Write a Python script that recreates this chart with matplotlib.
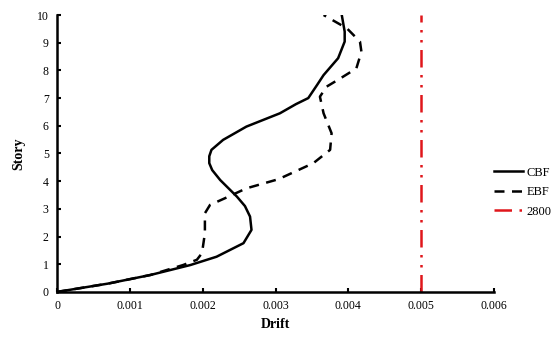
import matplotlib.pyplot as plt

plt.rcParams['font.family'] = ['Liberation Serif', 'DejaVu Serif']

# CBF drift profile
cbf_story = [0, 0.3, 0.61, 0.97, 1.27, 1.76, 2.24, 2.72, 3.1, 3.44, 4.04, 4.4, 4.65, 4.9, 5.13, 5.49, 5.97, 6.45,
             6.78, 7.0, 7.47, 7.83, 8.44, 9.04, 9.4, 10]
cbf_drift = [0, 0.0007, 0.00128, 0.00183, 0.00219, 0.00256, 0.00267, 0.00265, 0.00258, 0.00247, 0.00224, 0.00213,
             0.00209, 0.00209, 0.00212, 0.00228, 0.0026, 0.00306, 0.00328, 0.00345, 0.00357, 0.00366, 0.00386,
             0.00395, 0.00395, 0.00391]

# EBF drift profile
ebf_story = [0, 0.3, 0.61, 0.97, 1.16, 1.4, 2.12, 2.84, 3.14, 3.4, 3.74, 4.07, 4.65, 5.13, 5.73, 6.45, 7.05,
             7.41, 7.71, 8.07, 8.67, 9.04, 9.52, 10]
ebf_drift = [0, 0.0007, 0.00128, 0.00173, 0.00192, 0.00199, 0.00203, 0.00203, 0.0021, 0.00232, 0.0026, 0.00304,
             0.00352, 0.00375, 0.00377, 0.00366, 0.00361, 0.0037, 0.00389, 0.00411, 0.00418, 0.00416, 0.00398, 0.00366]

# code limit (Standard 2800)
limit_drift = [0.005, 0.005]
limit_story = [0, 10]

fig = plt.figure(figsize=(5.6, 3.41), dpi=100)
ax = fig.add_axes([0.102, 0.144, 0.78, 0.812])

ax.plot(cbf_drift, cbf_story, color='black', lw=1.8, label='CBF')
ax.plot(ebf_drift, ebf_story, color='black', lw=1.8, dashes=(4, 3), label='EBF')
ax.plot(limit_drift, limit_story, color='#e0161b', lw=1.8, dashes=(7, 3, 1, 3, 1, 3), label='2800')

ax.set_xlim(0, 0.006)
ax.set_ylim(0, 10)
ax.set_xticks([0, 0.001, 0.002, 0.003, 0.004, 0.005, 0.006])
ax.set_xticklabels(['0', '0.001', '0.002', '0.003', '0.004', '0.005', '0.006'])
ax.set_yticks(range(11))
ax.tick_params(direction='in', length=3, width=1.5, labelsize=8.5, pad=6)
for s in ['top', 'right']:
    ax.spines[s].set_visible(False)
for s in ['left', 'bottom']:
    ax.spines[s].set_linewidth(1.8)

ax.set_xlabel('Drift', fontsize=10, fontweight='bold', labelpad=4)
ax.set_ylabel('Story', fontsize=10, fontweight='bold', labelpad=8)

ax.legend(loc='center left', bbox_to_anchor=(0.975, 0.36), frameon=False, fontsize=9,
          handlelength=2.3, handletextpad=0.3, labelspacing=0.6)

fig.savefig('out.png', dpi=100)
